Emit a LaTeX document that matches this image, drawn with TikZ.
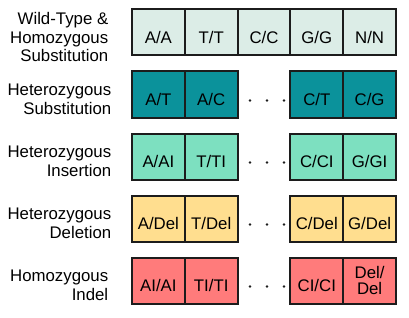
\documentclass[tikz,border=0pt]{standalone}
\usepackage{fontspec}
\setmainfont{Liberation Sans}
\definecolor{wildgray}{HTML}{DCEDE7}
\definecolor{subteal}{HTML}{0B929B}
\definecolor{insmint}{HTML}{7DE0C0}
\definecolor{delyellow}{HTML}{FFDE8F}
\definecolor{indelred}{HTML}{FF7B7B}
\definecolor{edge}{HTML}{1C1C1C}
\tikzset{
  cell/.style={draw=edge, line width=1.5pt, minimum width=39.6pt, minimum height=34.5pt,
    inner sep=0pt, align=center, font=\fontsize{12.6}{12.5}\selectfont},
  oneline/.style={text height=17pt, text depth=0pt},
  rowlabel/.style={anchor=east, align=right, inner sep=0pt, font=\fontsize{12.6}{13.9}\selectfont},
  gapdot/.style={fill=edge}
}
\begin{document}
\begin{tikzpicture}[x=0.75pt, y=-0.75pt]
\useasboundingbox (0,0) rectangle (409,317);
% row labels
\node[rowlabel] (wtlbl) at (108.5,37) {Wild-Type \&\\Homozygous\\Substitution};
\node[rowlabel] (sublbl) at (111.5,99.5) {Heterozygous\\Substitution};
\node[rowlabel] (inslbl) at (111.5,161.5) {Heterozygous\\Insertion};
\node[rowlabel] (dellbl) at (111.5,223.5) {Heterozygous\\Deletion};
\node[rowlabel] (indlbl) at (108.5,285.5) {Homozygous\\Indel};
% wild-type & homozygous substitution
\node[cell, oneline, fill=wildgray] (wt1) at (158.4,32.5) {A/A};
\node[cell, oneline, fill=wildgray] (wt2) at (211.2,32.5) {T/T};
\node[cell, oneline, fill=wildgray] (wt3) at (264,32.5) {C/C};
\node[cell, oneline, fill=wildgray] (wt4) at (316.8,32.5) {G/G};
\node[cell, oneline, fill=wildgray] (wt5) at (369.6,32.5) {N/N};
% heterozygous substitution
\node[cell, oneline, fill=subteal] (sub1) at (158.4,94.5) {A/T};
\node[cell, oneline, fill=subteal] (sub2) at (211.2,94.5) {A/C};
\node[cell, oneline, fill=subteal] (sub4) at (316.8,94.5) {C/T};
\node[cell, oneline, fill=subteal] (sub5) at (369.6,94.5) {C/G};
% heterozygous insertion
\node[cell, oneline, fill=insmint] (ins1) at (158.4,156.5) {A/AI};
\node[cell, oneline, fill=insmint] (ins2) at (211.2,156.5) {T/TI};
\node[cell, oneline, fill=insmint] (ins4) at (316.8,156.5) {C/CI};
\node[cell, oneline, fill=insmint] (ins5) at (369.6,156.5) {G/GI};
% heterozygous deletion
\node[cell, oneline, fill=delyellow] (del1) at (158.4,218.5) {A/Del};
\node[cell, oneline, fill=delyellow] (del2) at (211.2,218.5) {T/Del};
\node[cell, oneline, fill=delyellow] (del4) at (316.8,218.5) {C/Del};
\node[cell, oneline, fill=delyellow] (del5) at (369.6,218.5) {G/Del};
% homozygous indel
\node[cell, oneline, fill=indelred] (ind1) at (158.4,280.5) {AI/AI};
\node[cell, oneline, fill=indelred] (ind2) at (211.2,280.5) {TI/TI};
\node[cell, oneline, fill=indelred] (ind4) at (316.8,280.5) {CI/CI};
\node[cell, fill=indelred] (ind5) at (369.6,280.5) {Del/\\Del};
% gaps
\foreach \y in {94.5,156.5,218.5,280.5}
  \foreach \x in {250,267,284}
    \fill[gapdot] (\x,\y+6) circle (1.1pt);
\end{tikzpicture}
\end{document}
